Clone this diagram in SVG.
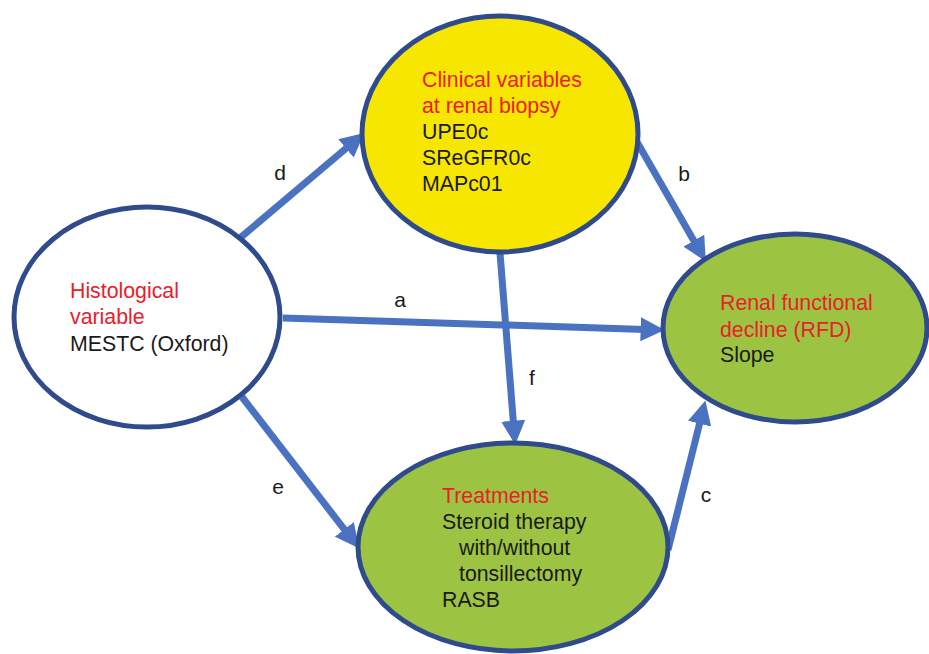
<svg xmlns="http://www.w3.org/2000/svg" width="929" height="654" viewBox="0 0 929 654">
<defs>
<style>
.node{stroke:#2f4b8c;stroke-width:5}
.t{font-family:"Liberation Sans",Arial,sans-serif;font-size:21.3px;fill:#1a1a1a}
.r{fill:#e8202a}
.lbl{font-family:"Liberation Sans",Arial,sans-serif;font-size:21px;fill:#1a1a1a;text-anchor:middle}
.c{stroke:#4a72c0;stroke-width:7;fill:none;marker-end:url(#ah)}
</style>
<marker id="ah" markerUnits="userSpaceOnUse" markerWidth="24" markerHeight="24" refX="4" refY="11" orient="auto" viewBox="0 0 22 22">
<path d="M0,0 L22,11 L0,22 z" fill="#4a72c0"/>
</marker>
</defs>
<rect width="929" height="654" fill="#ffffff"/>
<g id="connectors">
<line class="c" x1="240" y1="238" x2="349.3" y2="145.6"/>
<line class="c" x1="637" y1="142" x2="696" y2="244.4"/>
<line class="c" x1="283" y1="318" x2="645" y2="329.4"/>
<line class="c" x1="500" y1="253" x2="513.6" y2="425.1"/>
<line class="c" x1="242" y1="397" x2="347" y2="532.8"/>
<line class="c" x1="668" y1="550" x2="700.6" y2="419.5"/>
<text class="lbl" x="280" y="180">d</text>
<text class="lbl" x="684" y="181">b</text>
<text class="lbl" x="400" y="307">a</text>
<text class="lbl" x="532" y="385">f</text>
<text class="lbl" x="278" y="494">e</text>
<text class="lbl" x="706" y="502">c</text>
</g>
<g id="clinical">
<ellipse class="node" cx="500" cy="134" rx="138" ry="118" fill="#f7e600"/>
<text class="t r" x="422" y="87">Clinical variables</text>
<text class="t r" x="422" y="113">at renal biopsy</text>
<text class="t" x="422" y="139">UPE0c</text>
<text class="t" x="422" y="165">SReGFR0c</text>
<text class="t" x="422" y="191">MAPc01</text>
</g>
<g id="histological">
<ellipse class="node" cx="147" cy="317" rx="133" ry="110" fill="#ffffff"/>
<text class="t r" x="70" y="298">Histological</text>
<text class="t r" x="70" y="324">variable</text>
<text class="t" x="70" y="351">MESTC (Oxford)</text>
</g>
<g id="rfd">
<ellipse class="node" cx="795" cy="328" rx="132" ry="94" fill="#9dc343"/>
<text class="t r" x="720" y="310">Renal functional</text>
<text class="t r" x="720" y="337">decline (RFD)</text>
<text class="t" x="720" y="362">Slope</text>
</g>
<g id="treatments">
<ellipse class="node" cx="513" cy="547" rx="155" ry="104" fill="#9dc343"/>
<text class="t r" x="442" y="503">Treatments</text>
<text class="t" x="442" y="529">Steroid therapy</text>
<text class="t" x="459" y="555">with/without</text>
<text class="t" x="459" y="581">tonsillectomy</text>
<text class="t" x="442" y="607">RASB</text>
</g>
</svg>
